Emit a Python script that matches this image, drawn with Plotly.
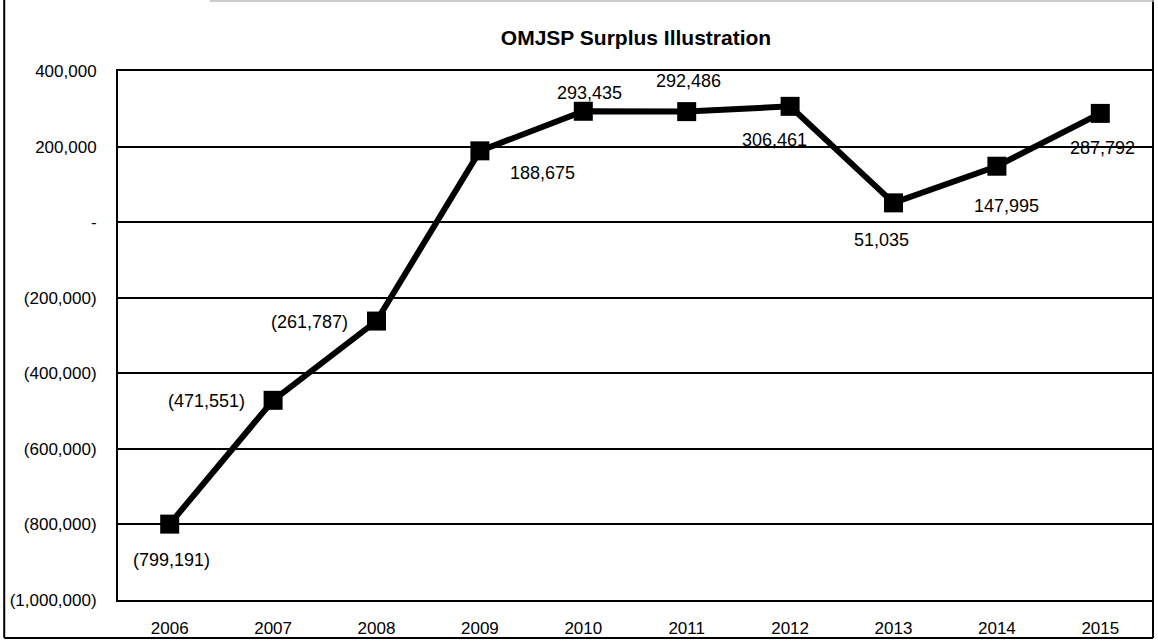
import plotly.graph_objects as go

years = ["2006", "2007", "2008", "2009", "2010", "2011", "2012", "2013", "2014", "2015"]
surplus = [-799191, -471551, -261787, 188675, 293435, 292486, 306461, 51035, 147995, 287792]
label_text = ["(799,191)", "(471,551)", "(261,787)", "188,675", "293,435",
              "292,486", "306,461", "51,035", "147,995", "287,792"]
ytick_vals = [400000, 200000, 0, -200000, -400000, -600000, -800000, -1000000]
ytick_text = ["400,000", "200,000", "-", "(200,000)", "(400,000)", "(600,000)", "(800,000)", "(1,000,000)"]

FONT = "Liberation Sans, Arial, sans-serif"

# label placement (pixel offsets relative to each point)
label_pos = [
    dict(xshift=2, yshift=-36, xanchor="center"),
    dict(xshift=-26, yshift=-1, xanchor="right"),
    dict(xshift=-27, yshift=-1, xanchor="right"),
    dict(xshift=63, yshift=-22, xanchor="center"),
    dict(xshift=6, yshift=18, xanchor="center"),
    dict(xshift=2, yshift=31, xanchor="center"),
    dict(xshift=-16, yshift=-34, xanchor="center"),
    dict(xshift=-12, yshift=-37, xanchor="center"),
    dict(xshift=10, yshift=-40, xanchor="center"),
    dict(xshift=2, yshift=-35, xanchor="center"),
]

W, H = 1158, 643
L, R, T, B = 118, 4, 71, 43
PW, PH = W - L - R, H - T - B

fig = go.Figure()
fig.add_trace(go.Scatter(
    x=years, y=surplus, mode="lines+markers",
    line=dict(color="black", width=6),
    marker=dict(symbol="square", size=19, color="black"),
    hoverinfo="skip", showlegend=False,
))

annotations = []
for i, (v, t, p) in enumerate(zip(surplus, label_text, label_pos)):
    annotations.append(dict(
        x=i, y=v, xref="x", yref="y", text=t, showarrow=False,
        xshift=p["xshift"], yshift=p["yshift"], xanchor=p["xanchor"], yanchor="middle",
        font=dict(family=FONT, size=18, color="black"),
    ))

def px_x(px):
    return (px - L) / PW

def px_y(py):
    return (H - B - py) / PH

fig.update_layout(
    width=W, height=H,
    margin=dict(l=L, r=R, t=T, b=B),
    paper_bgcolor="white", plot_bgcolor="white",
    title=dict(text="<b>OMJSP Surplus Illustration</b>", x=636 / W, xanchor="center",
               y=1 - 38 / H, yanchor="middle",
               font=dict(family=FONT, size=21, color="black")),
    font=dict(family=FONT, size=17, color="black"),
    annotations=annotations,
    xaxis=dict(
        type="category", range=[-0.5, 9.5], showgrid=False, showline=True,
        linecolor="black", linewidth=2, mirror=True, ticks="",
        tickfont=dict(family=FONT, size=17, color="black"), ticklabelstandoff=12,
        zeroline=False,
    ),
    yaxis=dict(
        range=[-1000000, 400000], tickvals=ytick_vals, ticktext=ytick_text,
        showgrid=True, gridcolor="black", gridwidth=1.5, showline=True,
        linecolor="black", linewidth=2, mirror=True, ticks="",
        tickfont=dict(family=FONT, size=17, color="black"), ticklabelstandoff=16,
        zeroline=False,
    ),
    shapes=[
        dict(type="line", xref="paper", yref="paper", x0=px_x(4), x1=px_x(4),
             y0=px_y(638), y1=px_y(0), line=dict(color="black", width=2)),
        dict(type="line", xref="paper", yref="paper", x0=px_x(4), x1=px_x(1155),
             y0=px_y(638), y1=px_y(638), line=dict(color="black", width=2)),
        dict(type="line", xref="paper", yref="paper", x0=px_x(1155), x1=px_x(1155),
             y0=px_y(638), y1=px_y(0), line=dict(color="black", width=2)),
        dict(type="line", xref="paper", yref="paper", x0=px_x(210), x1=px_x(1156),
             y0=px_y(1), y1=px_y(1), line=dict(color="#bbbbbb", width=1.5)),
    ],
)

fig.write_html("out.html",
               config={"displayModeBar": False},
               post_script="document.body.style.margin='0';document.body.style.overflow='hidden';")
